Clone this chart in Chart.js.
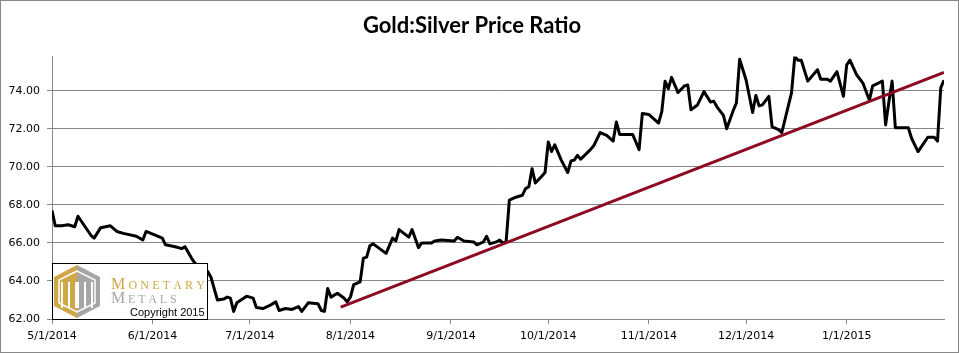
<!DOCTYPE html>
<html>
<head>
<meta charset="utf-8">
<script src="https://cdn.jsdelivr.net/npm/chart.js"></script>
<style>
  body { margin: 0; background: #fff; }
</style>
</head>
<body>
<canvas id="ratio" width="959" height="353"></canvas>
<script>
// gold:silver ratio
const dates = [
  '2014-05-01', '2014-05-02', '2014-05-04', '2014-05-06', '2014-05-08', '2014-05-09', '2014-05-11', '2014-05-13',
  '2014-05-14', '2014-05-16', '2014-05-19', '2014-05-21', '2014-05-23', '2014-05-27', '2014-05-29', '2014-05-30',
  '2014-06-02', '2014-06-04', '2014-06-05', '2014-06-08', '2014-06-10', '2014-06-11', '2014-06-13', '2014-06-14',
  '2014-06-16', '2014-06-18', '2014-06-19', '2014-06-21', '2014-06-23', '2014-06-24', '2014-06-25', '2014-06-26',
  '2014-06-27', '2014-06-30', '2014-07-02', '2014-07-03', '2014-07-05', '2014-07-07', '2014-07-09', '2014-07-10',
  '2014-07-12', '2014-07-14', '2014-07-16', '2014-07-17', '2014-07-19', '2014-07-22', '2014-07-23', '2014-07-24',
  '2014-07-25', '2014-07-26', '2014-07-28', '2014-07-30', '2014-07-31', '2014-08-01', '2014-08-02', '2014-08-04',
  '2014-08-05', '2014-08-06', '2014-08-07', '2014-08-08', '2014-08-12', '2014-08-14', '2014-08-15', '2014-08-16',
  '2014-08-19', '2014-08-20', '2014-08-22', '2014-08-23', '2014-08-26', '2014-08-27', '2014-08-29', '2014-09-02',
  '2014-09-03', '2014-09-05', '2014-09-08', '2014-09-09', '2014-09-11', '2014-09-12', '2014-09-13', '2014-09-15',
  '2014-09-16', '2014-09-17', '2014-09-18', '2014-09-19', '2014-09-21', '2014-09-23', '2014-09-24', '2014-09-25',
  '2014-09-26', '2014-09-27', '2014-09-29', '2014-09-30', '2014-10-01', '2014-10-02', '2014-10-03', '2014-10-05',
  '2014-10-07', '2014-10-08', '2014-10-09', '2014-10-10', '2014-10-11', '2014-10-14', '2014-10-15', '2014-10-17',
  '2014-10-19', '2014-10-21', '2014-10-22', '2014-10-23', '2014-10-27', '2014-10-28', '2014-10-29', '2014-10-30',
  '2014-11-01', '2014-11-02', '2014-11-04', '2014-11-05', '2014-11-06', '2014-11-07', '2014-11-08', '2014-11-10',
  '2014-11-12', '2014-11-13', '2014-11-14', '2014-11-16', '2014-11-18', '2014-11-20', '2014-11-21', '2014-11-22',
  '2014-11-24', '2014-11-25', '2014-11-27', '2014-11-28', '2014-11-29', '2014-12-01', '2014-12-03', '2014-12-04',
  '2014-12-05', '2014-12-06', '2014-12-08', '2014-12-09', '2014-12-11', '2014-12-12', '2014-12-15', '2014-12-16',
  '2014-12-17', '2014-12-18', '2014-12-20', '2014-12-23', '2014-12-24', '2014-12-26', '2014-12-27', '2014-12-29',
  '2014-12-31', '2015-01-01', '2015-01-02', '2015-01-04', '2015-01-06', '2015-01-08', '2015-01-09', '2015-01-12',
  '2015-01-13', '2015-01-14', '2015-01-15', '2015-01-16', '2015-01-20', '2015-01-21', '2015-01-23', '2015-01-26',
  '2015-01-28', '2015-01-29', '2015-01-30', '2015-01-31'
];
const ratio = [
  67.7, 66.9, 66.9, 66.95, 66.85, 67.4, 66.9, 66.4,
  66.25, 66.8, 66.9, 66.6, 66.5, 66.35, 66.15, 66.6,
  66.4, 66.25, 65.9, 65.8, 65.7, 65.8, 65.2, 64.95,
  64.6, 64.5, 64.2, 63.0, 63.05, 63.15, 63.1, 62.4,
  62.85, 63.2, 63.1, 62.6, 62.55, 62.7, 62.9, 62.45,
  62.55, 62.5, 62.65, 62.4, 62.85, 62.8, 62.45, 62.4,
  63.6, 63.15, 63.35, 63.1, 62.9, 63.15, 63.8, 63.95,
  65.2, 65.25, 65.85, 65.95, 65.45, 66.25, 66.1, 66.7,
  66.3, 66.7, 65.75, 66.0, 66.0, 66.1, 66.15, 66.1,
  66.3, 66.1, 66.05, 65.9, 66.05, 66.35, 65.95, 66.05,
  66.15, 66.0, 66.05, 68.25, 68.4, 68.5, 68.85, 68.95,
  69.9, 69.15, 69.5, 69.7, 71.3, 70.8, 71.15, 70.35,
  69.7, 70.3, 70.35, 70.6, 70.4, 70.9, 71.1, 71.8,
  71.65, 71.35, 72.35, 71.7, 71.7, 71.3, 70.9, 72.8,
  72.75, 72.6, 72.3, 72.9, 74.5, 74.1, 74.7, 73.9,
  74.25, 74.3, 73.0, 73.25, 73.95, 73.4, 73.45, 73.15,
  72.7, 72.0, 72.95, 73.35, 75.65, 74.55, 72.85, 73.75,
  73.2, 73.25, 73.7, 72.1, 71.95, 71.8, 73.9, 75.8,
  75.6, 75.6, 74.5, 75.1, 74.6, 74.6, 74.5, 75.0,
  73.7, 75.35, 75.6, 74.85, 74.4, 73.5, 74.25, 74.5,
  72.2, 73.4, 74.5, 72.05, 72.05, 71.5, 70.8, 71.55,
  71.55, 71.35, 74.15, 74.55
];

// trend line end points
const trendDates = ['2014-07-29', '2015-01-31'];
const trendValues = [62.62, 74.96];

// axis ticks
const monthTicks = ['2014-05-01', '2014-06-01', '2014-07-01', '2014-08-01', '2014-09-01',
                    '2014-10-01', '2014-11-01', '2014-12-01', '2015-01-01'];
const monthLabels = ['5/1/2014', '6/1/2014', '7/1/2014', '8/1/2014', '9/1/2014',
                     '10/1/2014', '11/1/2014', '12/1/2014', '1/1/2015'];
const yTicks = [62, 64, 66, 68, 70, 72, 74];

const startDate = '2014-05-01';
const endDate = '2015-01-31';

function dayNumber(iso) {
  const p = iso.split('-').map(Number);
  const s = startDate.split('-').map(Number);
  return Math.round((Date.UTC(p[0], p[1] - 1, p[2]) - Date.UTC(s[0], s[1] - 1, s[2])) / 86400000);
}

const tickDays = monthTicks.map(dayNumber);
const axisColor = '#878787';

function drawSmallCaps(ctx, word, x, y, big, small, spacing) {
  let cx = x;
  for (let i = 0; i < word.length; i++) {
    ctx.font = (i === 0 ? big : small) + 'px "Liberation Serif"';
    ctx.fillText(word[i], cx, y);
    cx += ctx.measureText(word[i]).width + spacing;
  }
}

const frame = {
  id: 'frame',
  beforeDraw(chart) {
    const ctx = chart.ctx;
    ctx.save();
    ctx.fillStyle = '#fff';
    ctx.fillRect(0, 0, chart.width, chart.height);
    ctx.restore();
  },
  afterDatasetsDraw(chart) {
    // Monetary Metals logo box
    const ctx = chart.ctx;
    const a = chart.chartArea;
    const bx = a.left, by = a.bottom - 56, bw = 155, bh = 56;
    ctx.save();
    ctx.fillStyle = '#fff';
    ctx.fillRect(bx, by, bw, bh);
    ctx.strokeStyle = '#000';
    ctx.lineWidth = 1;
    ctx.strokeRect(bx + 0.5, by + 0.5, bw, bh);

    const cx = bx + 25, l = bx + 2, r = bx + 48, t = by + 2, b = by + 55;
    ctx.fillStyle = '#CFA746';
    ctx.beginPath();
    ctx.moveTo(cx, t); ctx.lineTo(l, by + 14); ctx.lineTo(l, by + 43); ctx.lineTo(cx, b);
    ctx.closePath(); ctx.fill();
    ctx.fillStyle = '#A6A6A6';
    ctx.beginPath();
    ctx.moveTo(cx, t); ctx.lineTo(r, by + 14); ctx.lineTo(r, by + 43); ctx.lineTo(cx, b);
    ctx.closePath(); ctx.fill();

    ctx.strokeStyle = '#fff';
    ctx.lineWidth = 1.5;
    ctx.beginPath();
    ctx.moveTo(cx, t + 6); ctx.lineTo(l + 5, by + 17); ctx.lineTo(l + 5, by + 40); ctx.lineTo(cx, b - 6);
    ctx.lineTo(r - 5, by + 40); ctx.lineTo(r - 5, by + 17); ctx.closePath();
    ctx.stroke();
    ctx.lineWidth = 2;
    [cx - 15, cx - 8, cx - 1, cx + 1, cx + 8, cx + 15].forEach(x => {
      ctx.beginPath();
      ctx.moveTo(x, by + 19);
      ctx.lineTo(x, by + 45);
      ctx.stroke();
    });

    ctx.textBaseline = 'alphabetic';
    ctx.fillStyle = '#CFA746';
    drawSmallCaps(ctx, 'MONETARY', bx + 59, by + 26, 16, 12, 3.2);
    ctx.fillStyle = '#A6A6A6';
    drawSmallCaps(ctx, 'METALS', bx + 59, by + 40, 16, 12, 2.8);
    ctx.fillStyle = '#000';
    ctx.font = '11px "Liberation Sans"';
    ctx.fillText('Copyright 2015', bx + 78, by + 52.5);
    ctx.restore();
  },
  afterDraw(chart) {
    const ctx = chart.ctx;
    ctx.save();
    ctx.strokeStyle = axisColor;
    ctx.lineWidth = 1;
    ctx.strokeRect(0.5, 0.5, chart.width - 1, chart.height - 1);
    ctx.restore();
  }
};

Chart.defaults.font.family = '"DejaVu Sans"';
Chart.defaults.font.size = 11;
Chart.defaults.color = '#000';

new Chart(
  document.getElementById('ratio'),
  {
    type: 'line',
    data: {
      datasets: [
        {
          label: 'Trend',
          data: trendDates.map((d, i) => ({ x: dayNumber(d), y: trendValues[i] })),
          borderColor: '#8C0B22',
          borderWidth: 3,
          pointRadius: 0,
          order: 0
        },
        {
          label: 'Gold:Silver Price Ratio',
          data: dates.map((d, i) => ({ x: dayNumber(d), y: ratio[i] })),
          borderColor: '#000',
          borderWidth: 3,
          pointRadius: 0,
          tension: 0,
          borderJoinStyle: 'round',
          order: 1
        }
      ]
    },
    options: {
      responsive: false,
      animation: false,
      layout: { padding: { top: 4, right: 15, left: 0, bottom: 0 } },
      plugins: {
        legend: { display: false },
        tooltip: { enabled: false },
        title: {
          display: true,
          text: 'Gold:Silver Price Ratio',
          color: '#000',
          font: { family: 'Lato', size: 22, weight: 'bold' },
          padding: { top: 9, bottom: 17 }
        }
      },
      scales: {
        x: {
          type: 'linear',
          min: 0,
          max: dayNumber(endDate),
          afterBuildTicks: scale => { scale.ticks = tickDays.map(v => ({ value: v })); },
          afterFit: scale => { scale.height = 34; },
          ticks: {
            padding: 6,
            maxRotation: 0,
            autoSkip: false,
            callback: value => monthLabels[tickDays.indexOf(value)]
          },
          grid: { drawOnChartArea: false, drawTicks: true, tickLength: 5, color: axisColor },
          border: { color: axisColor }
        },
        y: {
          min: 62,
          max: 75.8,
          afterBuildTicks: scale => { scale.ticks = yTicks.map(v => ({ value: v })); },
          afterFit: scale => { scale.width = 52; },
          ticks: {
            padding: 7,
            callback: value => value.toFixed(2)
          },
          grid: { color: axisColor, tickLength: 5 },
          border: { color: axisColor }
        }
      }
    },
    plugins: [frame]
  }
);
</script>
</body>
</html>
